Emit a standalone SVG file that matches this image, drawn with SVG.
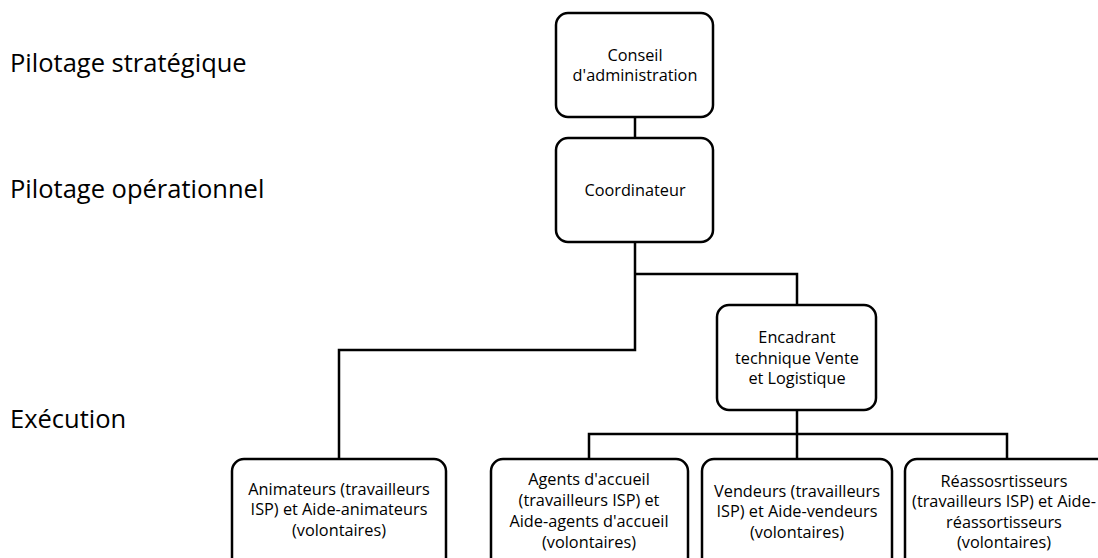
<svg xmlns="http://www.w3.org/2000/svg" width="1098" height="558" viewBox="0 0 1098 558">
<style>
.box{fill:#fff;stroke:#000;stroke-width:2.5}
.t{font-family:"Open Sans","Liberation Sans",sans-serif;font-size:16.3px;fill:#000;text-anchor:middle}
.lvl{font-family:"Open Sans","Liberation Sans",sans-serif;font-size:25.5px;fill:#000}
.c{fill:none;stroke:#000;stroke-width:2.5}
</style>
<rect width="1098" height="558" fill="#fff"/>
<g id="levels">
<text class="lvl" x="10" y="72">Pilotage stratégique</text>
<text class="lvl" x="10" y="198">Pilotage opérationnel</text>
<text class="lvl" x="10" y="428">Exécution</text>
</g>
<g id="connectors">
<path class="c" d="M635 117V138"/>
<path class="c" d="M635 242V350H339V458"/>
<path class="c" d="M635 274H797V305"/>
<path class="c" d="M797 410V459"/>
<path class="c" d="M589 459V434H1007V459"/>
</g>
<g id="conseil">
<rect class="box" x="556" y="13" width="157" height="104" rx="12"/>
<text class="t" x="635" y="61">Conseil</text>
<text class="t" x="635" y="81">d'administration</text>
</g>
<g id="coordinateur">
<rect class="box" x="556" y="138" width="157" height="104" rx="12"/>
<text class="t" x="635" y="196">Coordinateur</text>
</g>
<g id="encadrant">
<rect class="box" x="717" y="305" width="159" height="105" rx="12"/>
<text class="t" x="797" y="343">Encadrant</text>
<text class="t" x="797" y="364">technique Vente</text>
<text class="t" x="797" y="384">et Logistique</text>
</g>
<g id="animateurs">
<rect class="box" x="232" y="459" width="214" height="120" rx="12"/>
<text class="t" x="339" y="495">Animateurs (travailleurs</text>
<text class="t" x="339" y="515">ISP) et Aide-animateurs</text>
<text class="t" x="339" y="536">(volontaires)</text>
</g>
<g id="agents">
<rect class="box" x="491" y="459" width="197" height="120" rx="12"/>
<text class="t" x="589" y="485">Agents d'accueil</text>
<text class="t" x="589" y="506">(travailleurs ISP) et</text>
<text class="t" x="589" y="527">Aide-agents d'accueil</text>
<text class="t" x="589" y="548">(volontaires)</text>
</g>
<g id="vendeurs">
<rect class="box" x="702" y="459" width="190" height="120" rx="12"/>
<text class="t" x="797" y="497">Vendeurs (travailleurs</text>
<text class="t" x="797" y="517">ISP) et Aide-vendeurs</text>
<text class="t" x="797" y="538">(volontaires)</text>
</g>
<g id="reassort">
<rect class="box" x="905" y="459" width="205" height="120" rx="12"/>
<text class="t" x="1004" y="487">Réassosrtisseurs</text>
<text class="t" x="1004" y="507">(travailleurs ISP) et Aide-</text>
<text class="t" x="1004" y="528">réassortisseurs</text>
<text class="t" x="1004" y="548">(volontaires)</text>
</g>
</svg>
